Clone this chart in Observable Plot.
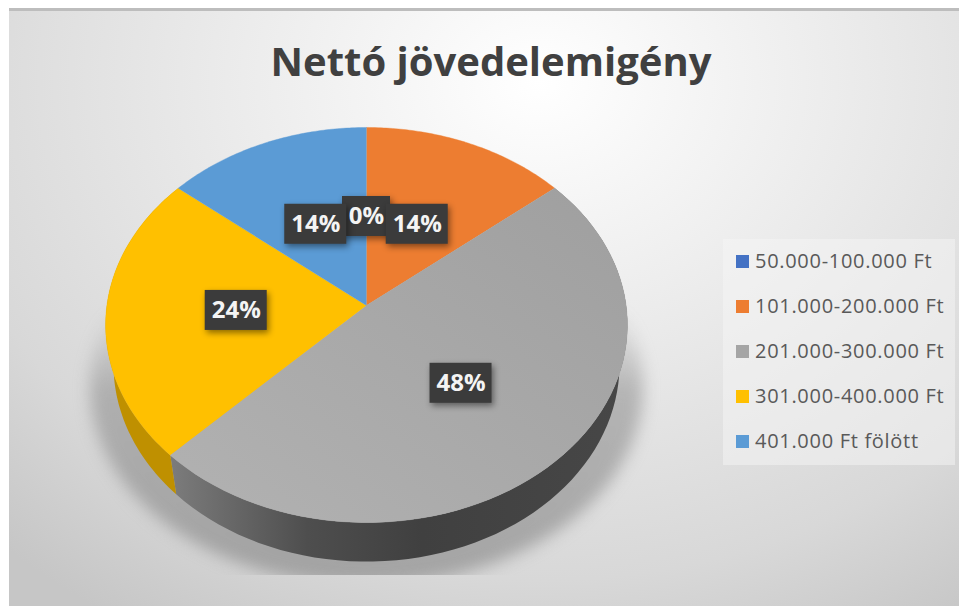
<!DOCTYPE html>
<html>
<head>
<meta charset="utf-8">
<script src="https://cdn.jsdelivr.net/npm/d3@7"></script>
<script src="https://cdn.jsdelivr.net/npm/@observablehq/plot@0.6"></script>
<style>
html,body{margin:0;padding:0;background:#fff;width:959px;height:606px;overflow:hidden}
#frame{position:absolute;left:9px;top:8px;width:950px;height:598px;border-top:3px solid #bdbdbd;box-sizing:border-box;
 background:radial-gradient(ellipse 780px 640px at 530px 70px,#ffffff 0%,#f6f6f6 18%,#e6e6e6 50%,#d8d8d8 78%,#c6c6c6 100%);}
#chart{position:absolute;left:0;top:0}
#title{position:absolute;left:0;top:33px;width:982px;text-align:center;font:700 40px "Open Sans",sans-serif;color:#404040;line-height:56px}
#legend{position:absolute;left:723px;top:239px;width:232px;height:226px;background:rgba(245,245,245,.5);font:20px "Open Sans",sans-serif;letter-spacing:.7px;color:#595959}
#legend div{position:absolute;left:13px;height:26px;line-height:26px;white-space:nowrap}
#legend i{display:inline-block;width:13px;height:13px;margin-right:6px;vertical-align:0}
</style>
</head>
<body>
<div id="frame"></div>
<div id="chart"></div>
<div id="title">Nettó jövedelemigény</div>
<div id="legend"></div>
<script>
const categories = ["50.000-100.000 Ft","101.000-200.000 Ft","201.000-300.000 Ft","301.000-400.000 Ft","401.000 Ft fölött"];
const values = [0, 14, 48.4, 23.6, 14];
const colors = ["#4472C4","#ED7D31","#A5A5A5","#FFC000","#5B9BD5"];
const wallColors = ["#335593","url(#wallOrange)","url(#wallGray)","#BF9000","#44749F"];
const titleText = "Nettó jövedelemigény";

const k = 0.0987, drop = 0.2, shrink = 0.97;
function project(deg, r = 1, lift = 0, sx = 1) {
  const t = deg * Math.PI / 180, u = r * Math.sin(t), v = r * Math.cos(t), w = 1 + k * v;
  return {x: sx * u / w, y: v / w - lift};
}
const total = d3.sum(values);
let acc = 0;
const slices = categories.map((c, i) => {
  const a0 = acc / total * 360; acc += values[i];
  return {c, i, value: values[i], a0, a1: acc / total * 360};
});
const arcAngles = (a0, a1) => d3.range(0, 73).map(j => a0 + (a1 - a0) * j / 72);

const slicePts = s => [{c: s.c, x: 0, y: 0}, ...arcAngles(s.a0, s.a1).map(a => ({c: s.c, ...project(a)}))];
const topPts = slices.filter(s => s.value > 0).flatMap(slicePts);
const wall = s => {
  const as = arcAngles(s.a0, s.a1);
  return [...as.map(a => ({c: s.c, ...project(a)})),
          ...as.slice().reverse().map(a => ({c: s.c, ...project(a, 1, drop, shrink)}))];
};
const shadowPts = arcAngles(72, 288).map(a => project(a, 1, 0.32, 1.06));
const labels = slices.map(s => {
  const p = project((s.a0 + s.a1) / 2);
  return {x: p.x / 2, y: p.y / 2, value: s.value, text: Math.round(s.value) + "%"};
});
const order = [labels[0], labels[4], labels[1], labels[3], labels[2]];

const withStyle = (f) => (i, sc, v, d, c, next) => { const g = next(i, sc, v, d, c); g.style.filter = f; return g; };
const cx = 366, cy = 305, rx = 259.6, ry = 195.6;

const plot = Plot.plot({
  width: 959, height: 606,
  marginTop: 0, marginLeft: 0, marginRight: 0, marginBottom: 31,
  style: {background: "transparent"},
  x: {domain: [-1, 1], range: [cx - rx, cx + rx], axis: null},
  y: {domain: [-1, 1], range: [cy + ry, cy - ry], axis: null},
  color: {domain: categories, range: colors},
  marks: [
    Plot.line(shadowPts, {x: "x", y: "y", fill: "url(#shadowFill)", stroke: "none", clip: "frame",
      render: withStyle("blur(8px)")}),
    ...slices.filter(s => s.value > 0 && (s.a1 > 90 && s.a0 < 270)).map(s =>
      Plot.line(wall(s), {x: "x", y: "y", fill: wallColors[s.i], stroke: "none"})),
    Plot.line(topPts, {x: "x", y: "y", z: "c", fill: "c", stroke: "c", strokeWidth: 0.4}),
    Plot.line(slicePts(slices[2]), {x: "x", y: "y", fill: "url(#grayFill)", stroke: "none"}),
    Plot.rect(order.filter(d => d.value < 1), {x1: "x", x2: "x", y1: "y", y2: "y", fill: "#3b3b3b",
      insetLeft: -24, insetRight: -24, insetTop: -20, insetBottom: -20, render: withStyle("drop-shadow(2px 3px 3px rgba(0,0,0,.45))")}),
    Plot.rect(order.filter(d => d.value >= 1), {x1: "x", x2: "x", y1: "y", y2: "y", fill: "#3b3b3b",
      insetLeft: -31, insetRight: -31, insetTop: -20, insetBottom: -20, render: withStyle("drop-shadow(2px 3px 3px rgba(0,0,0,.45))")}),
    Plot.text(order, {x: "x", y: "y", text: "text", fill: "#f4f4f4", fontSize: 24, fontWeight: 700, fontFamily: "Open Sans"})
  ]
});
const defs = d3.select(plot).insert("defs", ":first-child");
const grad = (id, attrs, stops) => {
  const g = defs.append("linearGradient").attr("id", id);
  Object.entries(attrs).forEach(([a, b]) => g.attr(a, b));
  stops.forEach(([o, col, op]) => g.append("stop").attr("offset", o).attr("stop-color", col).attr("stop-opacity", op ?? 1));
};
grad("wallGray", {x1: 0, x2: 1, y1: 0, y2: 0}, [[0, "#7c7c7c"], [0.3, "#4e4e4e"], [0.55, "#404040"], [1, "#474747"]]);
grad("wallOrange", {x1: 0, x2: 1, y1: 0, y2: 0}, [[0, "#b25d25"], [1, "#b25d25"]]);
grad("shadowFill", {x1: 0, x2: 0, y1: 0, y2: 1}, [[0, "#8c8c8c", 0], [0.3, "#8c8c8c", 0.55], [1, "#808080", 0.6]]);
grad("grayFill", {x1: 0, x2: 1, y1: 1, y2: 0}, [[0, "#b2b2b2"], [1, "#9f9f9f"]]);
document.getElementById("chart").append(plot);
document.getElementById("title").textContent = titleText;
const legend = d3.select("#legend");
categories.forEach((c, i) => {
  const row = legend.append("div").style("top", (9 + i * 45) + "px");
  row.append("i").style("background", colors[i]);
  row.append("span").text(c);
});
</script>
</body>
</html>
